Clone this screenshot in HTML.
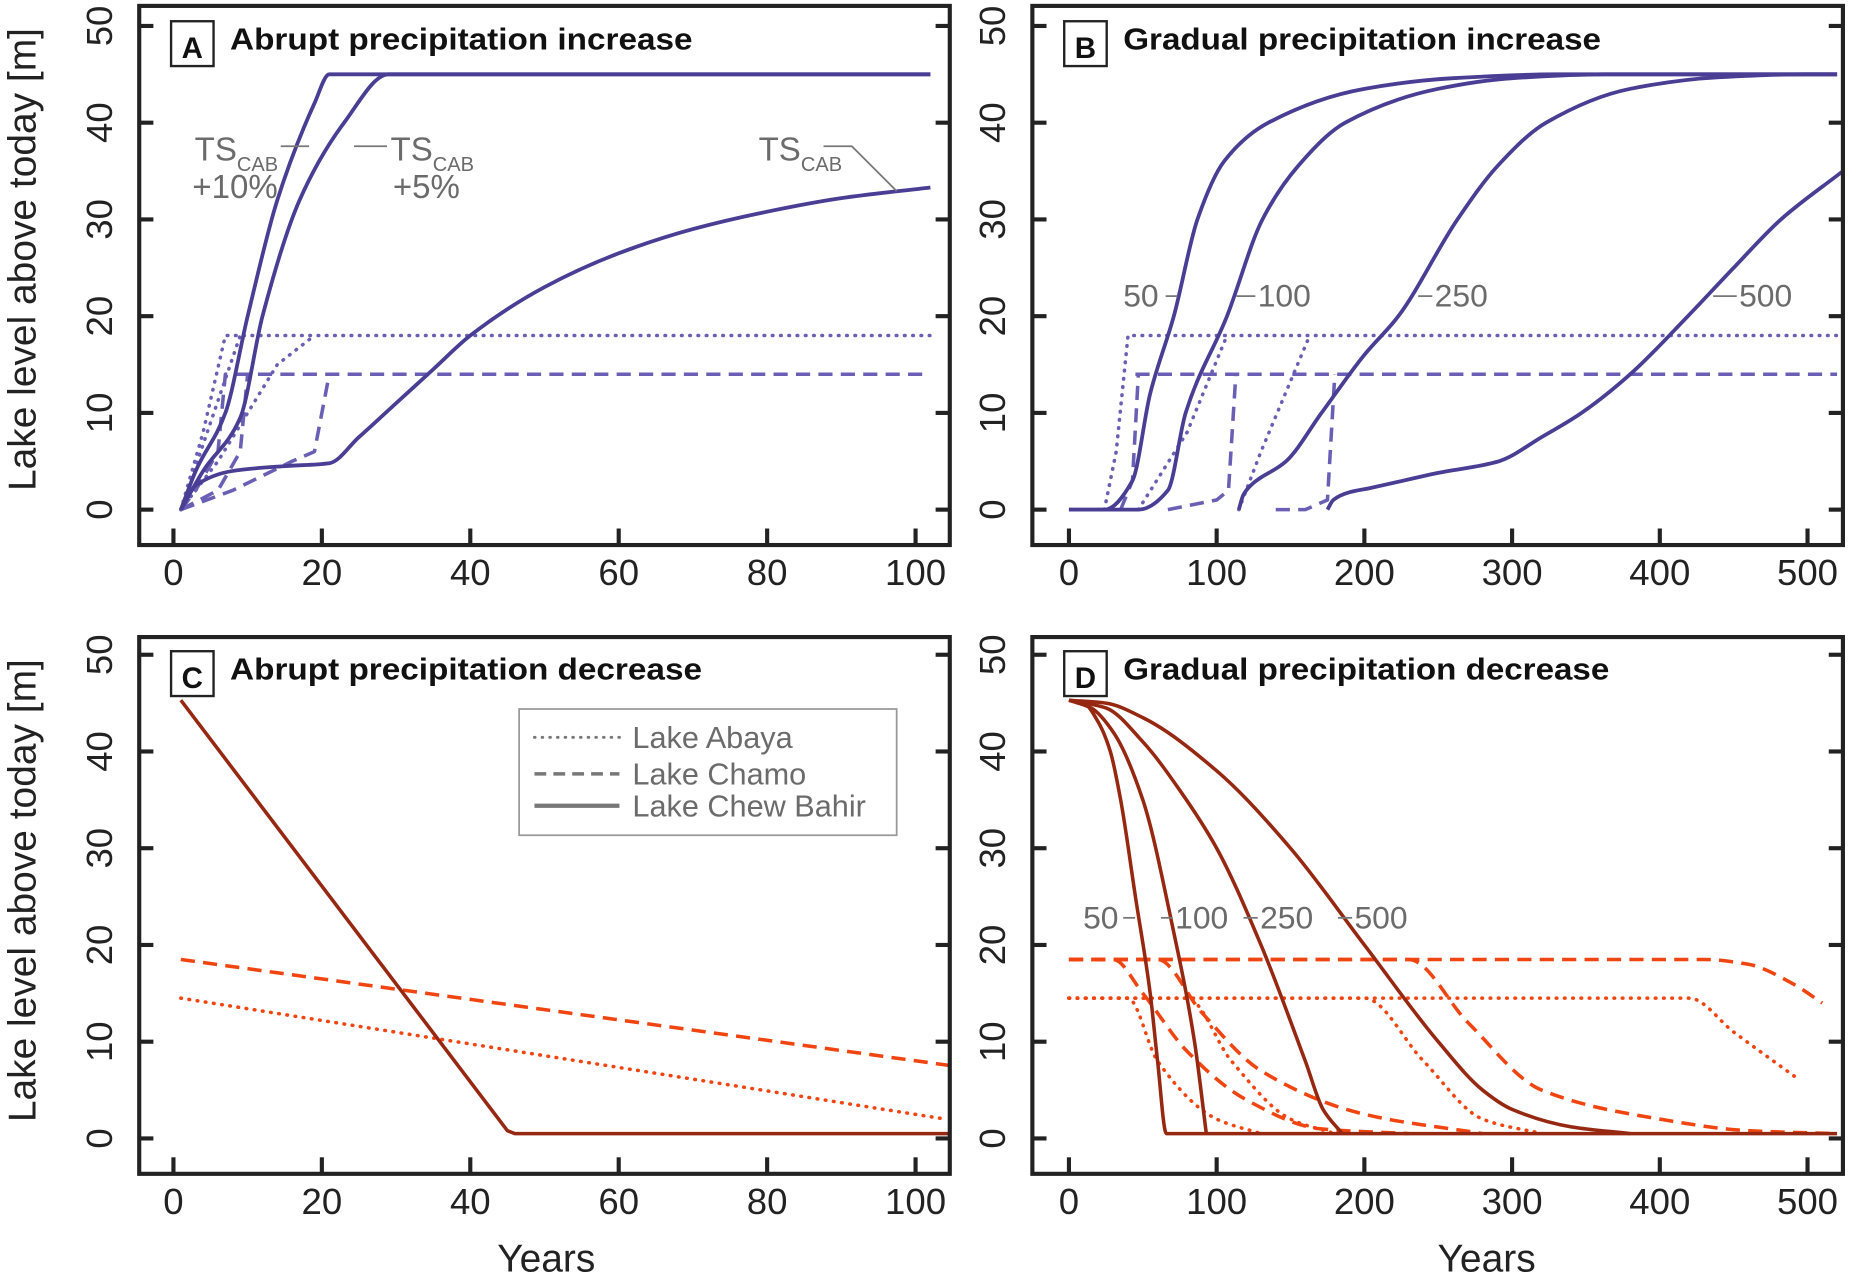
<!DOCTYPE html>
<html><head><meta charset="utf-8"><style>
html,body{margin:0;padding:0;background:#fff;}
svg{display:block;}
</style></head><body>
<svg id="fig" width="1850" height="1280" viewBox="0 0 1568 1085" preserveAspectRatio="none" xmlns="http://www.w3.org/2000/svg" font-family="Liberation Sans, Arial, sans-serif"></svg>
<script>
// ---- data ----
const yTicks = [0,10,20,30,40,50];
const xTicksShort = [0,20,40,60,80,100];
const xTicksLong = [0,100,200,300,400,500];

// Panel A (abrupt increase)
const aChew10 = [[1,0],[3,4],[7,10],[10,20],[14,32],[19,42],[21,45],[102,45]];
const aChew5 = [[1,0],[4,4],[9,9.5],[12,20],[17,32],[23,40],[29,45],[102,45]];
const aChewTS = [[1,0],[3,2.5],[8,4],[15,4.5],[21,4.8],[25,7.5],[30,11],[35,14.5],[40,18],[50,23],[60,26.5],[70,29],[80,30.8],[90,32.2],[102,33.3]];
const aAbaya10 = [[1,0],[4,8],[7,18],[102,18]];
const aAbaya5 = [[1,0],[5,9],[9,18]];
const aAbayaTS = [[1,0],[6,5],[10,10],[14,15],[19,18]];
const aChamo10 = [[1,0],[3,2],[6,6],[7,14],[102,14]];
const aChamo5 = [[1,0],[6,2],[9,6],[10,14]];
const aChamoTS = [[1,0],[8,2],[16,5],[19,6],[21,14]];

// Panel B (gradual increase)
const bChew50 = [[0,0],[24,0],[43,3],[55,12],[71,20],[87,30],[105,36],[135,40],[200,43.5],[260,44.6],[330,45],[520,45]];
const bChew100 = [[0,0],[47,0],[67,2],[79,10],[107,20],[131,30],[155,35.5],[187,40],[250,43.5],[300,44.6],[363,45],[520,45]];
const bChew250 = [[115,0],[118,1.5],[123,2.5],[147,5],[171,10],[200,16],[223,20],[263,30],[290,35.5],[323,40],[380,43.5],[440,44.7],[498,45],[520,45]];
const bChew500 = [[175,0],[179,1],[190,1.8],[203,2.2],[250,3.8],[291,5],[320,7.5],[347,10],[380,14],[419,20],[450,25],[482,30],[524,35]];
const bAbaya50 = [[24,0],[32,6],[40,18],[520,18]];
const bAbaya100 = [[47,0],[80,8],[107,18]];
const bAbaya250 = [[115,0],[130,6],[163,18]];
const bChamo50 = [[35,0],[43,3],[47,14]];
const bChamo100 = [[67,0],[100,1],[108,2],[113,14]];
const bChamo250 = [[140,0],[160,0],[175,1],[180,14]];
const bChamo500 = [[45,14],[520,14]];

// Panel C (abrupt decrease)
const cChew = [[1,45.3],[45,0.8],[46,0.5],[105,0.5]];
const cChamo = [[1,18.5],[105,7.5]];
const cAbaya = [[1,14.5],[104,2]];

// Panel D (gradual decrease)
const dChew50 = [[0,45.3],[10,45],[20,43],[28,40],[35,35],[45,25],[55,15],[60,8],[66,0.5],[520,0.5]];
const dChew100 = [[0,45.3],[15,44.5],[30,42],[50,35],[70,22],[85,10],[93,0.5]];
const dChew250 = [[0,45.3],[25,44.5],[50,41],[75,36],[100,30],[130,20],[160,8],[172,3],[185,0.5]];
const dChew500 = [[0,45.3],[25,45],[50,43.5],[100,38],[150,30],[200,20],[250,10],[280,5],[300,3],[340,1.2],[380,0.5]];
const dChamo50 = [[0,18.5],[30,18.5],[50,15],[80,9],[120,4],[170,1],[230,0.5]];
const dChamo100 = [[0,18.5],[60,18.5],[90,13],[130,7],[200,2.5],[280,0.5]];
const dChamo250 = [[0,18.5],[230,18.5],[270,12],[320,5],[400,2],[460,0.8],[520,0.5]];
const dChamo500 = [[0,18.5],[430,18.5],[460,18],[490,16],[510,14]];
const dAbaya50 = [[0,14.5],[40,14.5],[60,8],[100,2],[130,0.5]];
const dAbaya100 = [[0,14.5],[80,14.5],[110,8],[150,2],[180,0.5]];
const dAbaya250 = [[0,14.5],[200,14.5],[240,8],[280,2],[320,0.5]];
const dAbaya500 = [[0,14.5],[420,14.5],[450,11],[495,6]];

// ---- drawing ----
const NS = "http://www.w3.org/2000/svg";
const svg = document.getElementById('fig');
function el(tag, attrs, parent, text){
  const e = document.createElementNS(NS, tag);
  for (const k in attrs) e.setAttribute(k, attrs[k]);
  if (text !== undefined) e.textContent = text;
  (parent||svg).appendChild(e);
  return e;
}
const PURPLE = '#4a3d94', LPURPLE = '#6a5fb4', DRED = '#962812', ORANGE = '#f04510';
const DOT = '0.5 6.5', DASH = '12 7';

// monotone cubic (Fritsch-Carlson) path through pixel points
function monotonePath(P){
  const n = P.length;
  if (n < 3) return P.map((q,i)=>(i?'L':'M')+q[0].toFixed(2)+','+q[1].toFixed(2)).join(' ');
  const dx=[], dy=[], m=[];
  for (let i=0;i<n-1;i++){ dx.push(P[i+1][0]-P[i][0]); dy.push(P[i+1][1]-P[i][1]); m.push(dx[i]===0?0:dy[i]/dx[i]); }
  const t=[m[0]];
  for (let i=1;i<n-1;i++){
    if (m[i-1]*m[i] <= 0) t.push(0);
    else { const w1=2*dx[i]+dx[i-1], w2=dx[i]+2*dx[i-1]; t.push((w1+w2)/(w1/m[i-1]+w2/m[i])); }
  }
  t.push(m[n-2]);
  let d = 'M'+P[0][0].toFixed(2)+','+P[0][1].toFixed(2);
  for (let i=0;i<n-1;i++){
    const h = dx[i]/3;
    d += ' C'+(P[i][0]+h).toFixed(2)+','+(P[i][1]+t[i]*h).toFixed(2)+' '+(P[i+1][0]-h).toFixed(2)+','+(P[i+1][1]-t[i+1]*h).toFixed(2)+' '+P[i+1][0].toFixed(2)+','+P[i+1][1].toFixed(2);
  }
  return d;
}

function makePanel(name, fx0, fx1, fy0, fy1, x0px, xmaxpx, xmax, y0px, y50px, xticks){
  const g = el('g', {});
  
  
  const sx = v => x0px + (v/xmax)*(xmaxpx - x0px);
  const sy = v => y0px + (v/50)*(y50px - y0px);
  const clipId = 'clip'+name;
  const cp = el('clipPath', {id: clipId}, g);
  el('rect', {x: fx0, y: fy0, width: fx1-fx0, height: fy1-fy0}, cp);
  const plot = el('g', {'clip-path': 'url(#'+clipId+')'}, g);
  yTicks.forEach(t => {
    const tl = el('line', {x1: fx0, x2: fx0+12, y1: sy(t), y2: sy(t), stroke:'#222','stroke-width':3.5}, g);
    
    
    el('line', {x1: fx1-12, x2: fx1, y1: sy(t), y2: sy(t), stroke:'#222','stroke-width':3.5}, g);
    const lbl = el('text', {x: 0, y: 0, 'font-size': 31, fill:'#222', 'text-anchor':'middle',
      transform: 'translate('+(fx0-23)+','+sy(t)+') rotate(-90)'}, g, String(t));
    
    
  });
  xticks.forEach(t => {
    const tl = el('line', {x1: sx(t), x2: sx(t), y1: fy1-14, y2: fy1, stroke:'#222','stroke-width':3.5}, g);
    
    
    const lbl = el('text', {x: sx(t), y: fy1+34, 'font-size': 31, fill:'#222', 'text-anchor':'middle'}, g, String(t));
    
    
  });
  const frame = el('rect', {x: fx0, y: fy0, width: fx1-fx0, height: fy1-fy0, fill:'none', stroke:'#222', 'stroke-width':3.5}, g);
  
  
  return {g, plot, sx, sy};
}
function series(p, pts, color, width, dash, nm, smooth){
  const P = pts.map(q => [p.sx(q[0]), p.sy(q[1])]);
  const d = smooth ? monotonePath(P) : P.map((q,i)=>(i?'L':'M')+q[0].toFixed(2)+','+q[1].toFixed(2)).join(' ');
  const a = {d, fill:'none', stroke: color, 'stroke-width': width, 'stroke-linejoin':'round', 'stroke-linecap': dash===DOT?'round':'butt'};
  if (dash) a['stroke-dasharray'] = dash;
  const e = el('path', a, p.plot);
  
  
}
function title(p, x, y, letter, txt, len){
  const b = el('rect', {x: x, y: y-22, width: 36, height: 38, fill:'#fff', stroke:'#222', 'stroke-width':2}, p.g);
  
  
  const l = el('text', {x: x+18, y: y+9, 'font-size': 25, 'font-weight':'bold', 'text-anchor':'middle', fill:'#111'}, p.g, letter);
  
  
  const t = el('text', {x: x+50, y: y+2, 'font-size': 26, 'font-weight':'bold', fill:'#111', textLength: len, lengthAdjust:'spacingAndGlyphs'}, p.g, txt);
  
  
}
function gtext(p, x, y, txt, size, nm){
  const t = el('text', {x, y, 'font-size': size, fill:'#6b6b6b'}, p.g, txt);
  
  
  return t;
}
function tscab(p, x, y, nm){
  const t = el('text', {x, y, 'font-size': 28, fill:'#6b6b6b'}, p.g);
  
  
  el('tspan', {}, t, 'TS');
  el('tspan', {dy: 9, 'font-size': 17}, t, 'CAB');
}
function leader(p, pts){
  el('polyline', {points: pts.map(q=>q.join(',')).join(' '), fill:'none', stroke:'#777', 'stroke-width':1.5}, p.g);
}

// Panel A
const A = makePanel('a', 118, 805, 5, 462, 147, 776, 100, 432, 22, xTicksShort);
title(A, 145, 40, 'A', 'Abrupt precipitation increase', 392);
series(A, aAbaya10, LPURPLE, 3, DOT, 'abaya-ts-plus10');
series(A, aAbaya5, LPURPLE, 3, DOT, 'abaya-ts-plus5');
series(A, aAbayaTS, LPURPLE, 3, DOT, 'abaya-ts');
series(A, aChamo10, LPURPLE, 3, DASH, 'chamo-ts-plus10');
series(A, aChamo5, LPURPLE, 3, DASH, 'chamo-ts-plus5');
series(A, aChamoTS, LPURPLE, 3, DASH, 'chamo-ts');
series(A, aChew10, PURPLE, 3.2, null, 'chew-bahir-ts-plus10', true);
series(A, aChew5, PURPLE, 3.2, null, 'chew-bahir-ts-plus5', true);
series(A, aChewTS, PURPLE, 3.2, null, 'chew-bahir-ts', true);
tscab(A, 165, 136, 'label-ts-plus10'); gtext(A, 163, 168, '+10%', 28, 'label-plus10');
leader(A, [[238,124],[262,124]]);
tscab(A, 331, 136, 'label-ts-plus5'); gtext(A, 333, 168, '+5%', 28, 'label-plus5');
leader(A, [[300,124],[328,124]]);
tscab(A, 643, 136, 'label-ts'); leader(A, [[698,124],[722,124],[760,162]]);

// Panel B
const B = makePanel('b', 875, 1562, 5, 462, 906, 1532, 500, 432, 22, xTicksLong);
title(B, 902, 40, 'B', 'Gradual precipitation increase', 405);
[bAbaya50,bAbaya100,bAbaya250].forEach((s,i)=>series(B, s, LPURPLE, 3, DOT, 'abaya-'+['50','100','250'][i]));
[bChamo50,bChamo100,bChamo250,bChamo500].forEach((s,i)=>series(B, s, LPURPLE, 3, DASH, 'chamo-'+['50','100','250','500'][i]));
series(B, bChew50, PURPLE, 3.2, null, 'chew-bahir-50', true);
series(B, bChew100, PURPLE, 3.2, null, 'chew-bahir-100', true);
series(B, bChew250, PURPLE, 3.2, null, 'chew-bahir-250', true);
series(B, bChew500, PURPLE, 3.2, null, 'chew-bahir-500', true);
gtext(B, 952, 260, '50', 27, 'label-50'); leader(B, [[988,251],[998,251]]);
gtext(B, 1066, 260, '100', 27, 'label-100'); leader(B, [[1048,251],[1064,251]]);
gtext(B, 1216, 260, '250', 27, 'label-250'); leader(B, [[1202,251],[1214,251]]);
gtext(B, 1474, 260, '500', 27, 'label-500'); leader(B, [[1452,251],[1472,251]]);

// Panel C
const C = makePanel('c', 118, 805, 540, 995, 147, 776, 100, 965, 555, xTicksShort);
title(C, 145, 574, 'C', 'Abrupt precipitation decrease', 400);
series(C, cAbaya, ORANGE, 3, DOT, 'abaya');
series(C, cChamo, ORANGE, 3, DASH, 'chamo');
series(C, cChew, DRED, 3, null, 'chew-bahir');
const lg = el('g', {}, C.g);


el('rect', {x: 440, y: 601, width: 320, height: 107, fill:'#fff', stroke:'#999', 'stroke-width':1.5}, lg);
const legItems = [['Lake Abaya', '0.5 6', 2.5, 625], ['Lake Chamo', '10 6', 3, 656], ['Lake Chew Bahir', null, 3.5, 683]];
legItems.forEach(it => {
  const le = el('g', {}, lg);
  
  
  const a = {x1: 453, x2: 525, y1: it[3], y2: it[3], stroke:'#777', 'stroke-width': it[2], 'stroke-linecap': it[1]==='0.5 6'?'round':'butt'};
  if (it[1]) a['stroke-dasharray'] = it[1];
  el('line', a, le);
  el('text', {x: 536, y: it[3]+9, 'font-size': 26, fill:'#6b6b6b'}, le, it[0]);
});

// Panel D
const D = makePanel('d', 875, 1562, 540, 995, 906, 1532, 500, 965, 555, xTicksLong);
title(D, 902, 574, 'D', 'Gradual precipitation decrease', 412);
[dAbaya50,dAbaya100,dAbaya250,dAbaya500].forEach((s,i)=>series(D, s, ORANGE, 3, DOT, 'abaya-'+['50','100','250','500'][i], true));
[dChamo50,dChamo100,dChamo250,dChamo500].forEach((s,i)=>series(D, s, ORANGE, 3, DASH, 'chamo-'+['50','100','250','500'][i], true));
series(D, dChew50, DRED, 3, null, 'chew-bahir-50', true);
series(D, dChew100, DRED, 3, null, 'chew-bahir-100', true);
series(D, dChew250, DRED, 3, null, 'chew-bahir-250', true);
series(D, dChew500, DRED, 3, null, 'chew-bahir-500', true);
gtext(D, 918, 787, '50', 27, 'label-50'); leader(D, [[952,778],[962,778]]);
gtext(D, 996, 787, '100', 27, 'label-100'); leader(D, [[984,778],[994,778]]);
gtext(D, 1068, 787, '250', 27, 'label-250'); leader(D, [[1054,778],[1066,778]]);
gtext(D, 1148, 787, '500', 27, 'label-500'); leader(D, [[1134,778],[1146,778]]);

// Axis titles
[[220,'y-axis-title-top'],[755,'y-axis-title-bottom']].forEach(q => {
  const t = el('text', {x:0, y:0, 'font-size': 33, fill:'#222', 'text-anchor':'middle', transform:'translate(30,'+q[0]+') rotate(-90)'}, svg, 'Lake level above today [m]');
  
  
});
[[463,'x-axis-title-left'],[1260,'x-axis-title-right']].forEach(q => {
  const t = el('text', {x: q[0], y: 1078, 'font-size': 33, fill:'#222', 'text-anchor':'middle'}, svg, 'Years');
  
  
});
</script>
</body></html>
